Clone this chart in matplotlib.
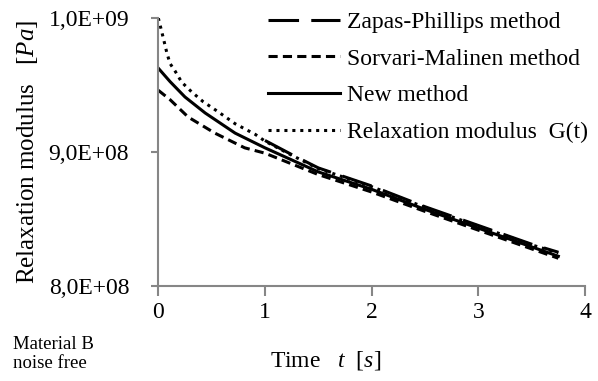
import numpy as np
from matplotlib import pyplot as plt

plt.rcParams['font.family'] = 'Liberation Serif'
plt.rcParams['mathtext.fontset'] = 'custom'
plt.rcParams['mathtext.it'] = 'Liberation Serif:italic'
plt.rcParams['mathtext.rm'] = 'Liberation Serif'

# relaxation modulus G(t) (units 1e8 Pa)
t_g = [0, 0.016, 0.05, 0.08, 0.11, 0.16, 0.22, 0.31, 0.42, 0.56, 0.72, 0.91, 1.0,
       1.25, 1.5, 2.0, 2.5, 3.0, 3.5, 3.75]
g = [10.0, 9.95, 9.84, 9.74, 9.66, 9.60, 9.52, 9.45, 9.375, 9.30, 9.21, 9.13, 9.08,
     8.975, 8.875, 8.74, 8.585, 8.445, 8.305, 8.245]

# Zapas-Phillips method
t_zp = [1.0, 1.25, 1.5, 2.0, 2.5, 3.0, 3.5, 3.75]
zp = [9.085, 8.98, 8.88, 8.745, 8.59, 8.45, 8.31, 8.25]

# new method
t_new = [0, 0.11, 0.25, 0.44, 0.72, 1.0, 1.25, 1.5, 2.0, 2.5, 3.0, 3.5, 3.75]
new = [9.625, 9.525, 9.41, 9.29, 9.14, 9.03, 8.94, 8.85, 8.72, 8.57, 8.43, 8.29, 8.22]

# Sorvari-Malinen method
t_sm = [0, 0.11, 0.28, 0.53, 0.81, 1.0, 1.25, 1.5, 2.0, 2.5, 3.0, 3.5, 3.75]
sm = [9.46, 9.39, 9.26, 9.14, 9.03, 8.99, 8.91, 8.83, 8.70, 8.555, 8.415, 8.275, 8.205]

yticks = [8.0e8, 9.0e8, 1.0e9]
ytick_labels = ['8,0E+08', '9,0E+08', '1,0E+09']
xticks = [0, 1, 2, 3, 4]

fig = plt.figure(figsize=(5.98, 3.81), dpi=100)
ax = fig.add_axes([158.3 / 598, 1 - 285.7 / 381, (585 - 158.3) / 598, (285.7 - 18) / 381])

lw = 2.2
ax.plot(t_zp, np.array(zp) * 1e8, color='black', lw=lw, dashes=(10, 4),
        label='Zapas-Phillips method')
ax.plot(t_sm, np.array(sm) * 1e8, color='black', lw=lw, dashes=(3, 1.7),
        label='Sorvari-Malinen method')
ax.plot(t_new, np.array(new) * 1e8, color='black', lw=lw, label='New method')
ax.plot(t_g, np.array(g) * 1e8, color='black', lw=lw, dashes=(1, 1.6),
        label='Relaxation modulus  G(t)')

ax.set_xlim(0, 4)
ax.set_ylim(8.0e8, 1.0e9)
ax.set_xticks(xticks)
ax.set_yticks(yticks)
ax.set_yticklabels(ytick_labels)
ax.tick_params(axis='both', labelsize=17, colors='#868686', labelcolor='black')
ax.tick_params(axis='x', length=7, width=1.5, pad=5)
ax.tick_params(axis='y', length=5, width=1.5, pad=16)
for s in ['top', 'right']:
    ax.spines[s].set_visible(False)
for s in ['left', 'bottom']:
    ax.spines[s].set_color('#868686')
    ax.spines[s].set_linewidth(1.5)

fig.text(28 / 598, 1 - 152 / 381, 'Relaxation modulus   [$Pa$]', rotation=90,
         ha='center', va='center', fontsize=18)
fig.text(326 / 598, 1 - 361 / 381, 'Time   $t$  [$s$]', ha='center', va='center', fontsize=17)
fig.text(13 / 598, 1 - 354 / 381, 'Material B\nnoise free', ha='left', va='center',
         fontsize=13.5, linespacing=1.2)

leg = fig.legend(loc='upper left', bbox_to_anchor=(251 / 598, 1 + 5 / 381), frameon=False,
                 fontsize=17, handlelength=3.05, handletextpad=0.3, labelspacing=0.64,
                 borderpad=0.2)

plt.savefig('out.png', dpi=100)
